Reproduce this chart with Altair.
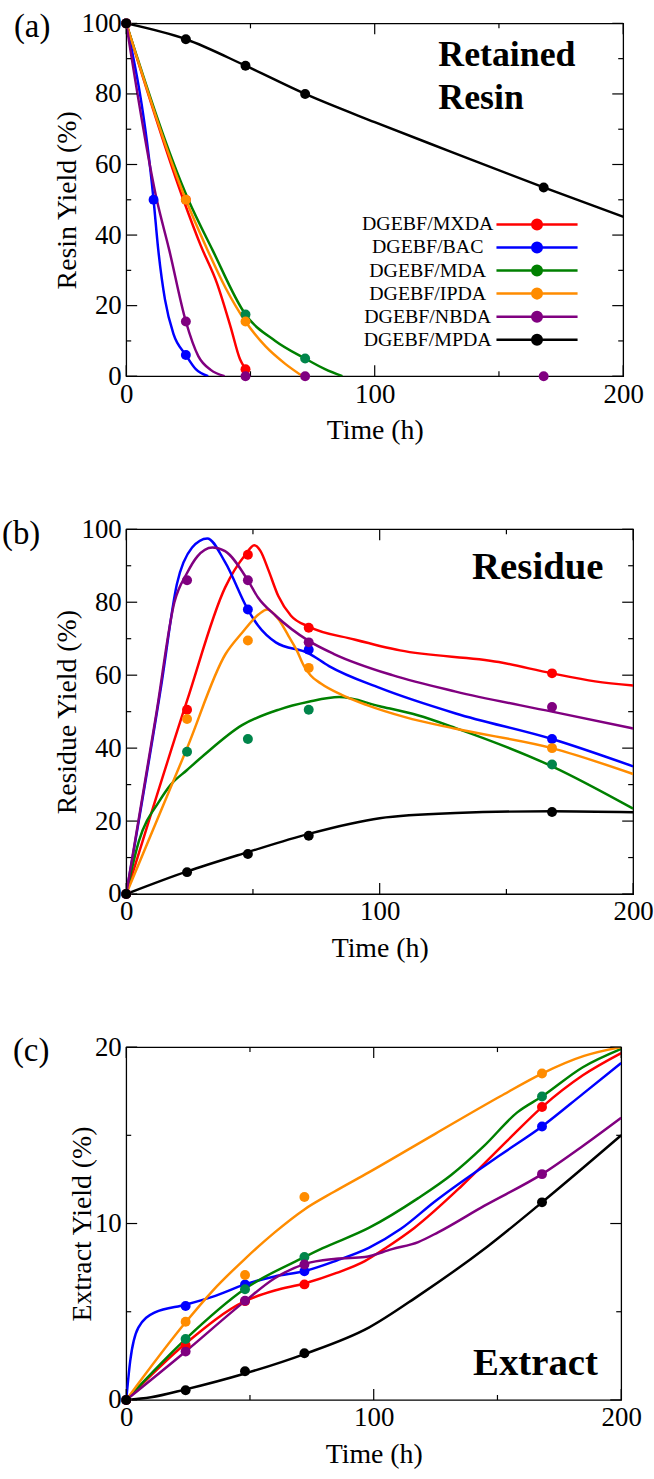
import altair as alt
import pandas as pd

FONT = "Liberation Serif"

SERIES = ["DGEBF/MXDA", "DGEBF/BAC", "DGEBF/MDA", "DGEBF/IPDA", "DGEBF/NBDA", "DGEBF/MPDA"]
LINE_COLORS = ["#ff0000", "#0000ff", "#008000", "#ff8c00", "#800080", "#000000"]
POINT_COLORS = ["#ff0000", "#0000ff", "#00854a", "#ff8c00", "#800080", "#000000"]

# ---------------- (a) Retained resin ----------------
A_POINTS = {
    "DGEBF/MXDA": ([0, 24, 48], [100, 50, 2]),
    "DGEBF/BAC": ([0, 11, 24], [100, 50, 6]),
    "DGEBF/MDA": ([0, 48, 72], [100, 17.5, 5]),
    "DGEBF/IPDA": ([0, 24, 48], [100, 50, 15.5]),
    "DGEBF/NBDA": ([0, 24, 48, 72, 168], [100, 15.5, 0, 0, 0]),
    "DGEBF/MPDA": ([0, 24, 48, 72, 168], [100, 95.5, 88, 80, 53.5]),
}
A_CURVES = {
    "DGEBF/MXDA": ([0, 23, 30, 36.5, 42, 45.8, 48, 49.5], [100, 50, 37, 26.4, 14, 4.8, 2, 0]),
    "DGEBF/BAC": ([0, 11, 12.9, 15.6, 19, 24, 28, 33], [100, 50, 35.8, 21.7, 12, 6, 2, 0]),
    "DGEBF/MDA": ([0, 25, 34.7, 48, 60, 72, 80, 87], [100, 50, 35.8, 17.5, 10, 5, 2, 0]),
    "DGEBF/IPDA": ([0, 24, 32.7, 40, 48, 56, 64, 71], [100, 50, 35.8, 25, 15.5, 8.5, 3.5, 0]),
    "DGEBF/NBDA": ([0, 12.3, 17.3, 24, 29, 34, 39.6], [100, 50, 35.8, 15.5, 5.7, 1.8, 0]),
    "DGEBF/MPDA": ([0, 24, 48, 72, 100, 130, 168, 200], [100, 95.5, 88, 80, 72, 63.8, 53.5, 45.2]),
}

# ---------------- (b) Residue ----------------
B_POINTS = {
    "DGEBF/MXDA": ([0, 24, 48, 72, 168], [0, 50.5, 93, 73, 60.5]),
    "DGEBF/BAC": ([0, 48, 72, 168], [0, 78, 67, 42.5]),
    "DGEBF/MDA": ([0, 24, 48, 72, 168], [0, 39, 42.5, 50.5, 35.5]),
    "DGEBF/IPDA": ([0, 24, 48, 72, 168], [0, 48, 69.5, 62, 40]),
    "DGEBF/NBDA": ([0, 24, 48, 72, 168], [0, 86, 86, 69, 51.3]),
    "DGEBF/MPDA": ([0, 24, 48, 72, 168], [0, 6, 11, 16, 22.5]),
}
B_CURVES = {
    "DGEBF/MXDA": ([0, 24, 39, 47, 50.5, 53, 56, 60, 65, 72, 90, 108, 147, 168, 185, 200],
                   [0, 53, 84, 93, 95.6, 94, 89, 81.7, 76.3, 73.3, 69.8, 66.8, 63.6, 60.5, 58.3, 57.2]),
    "DGEBF/BAC": ([0, 14, 20, 26, 32, 39, 48, 52, 59, 72, 80, 100, 130, 168, 200],
                  [0, 58, 85, 95, 97.5, 91, 78, 73.6, 69, 66, 62.5, 56.5, 49.5, 42.5, 35]),
    "DGEBF/MDA": ([0, 5, 13, 17.6, 24, 30.7, 45.7, 60, 72, 84, 100, 115, 130, 168, 200],
                  [0, 14.5, 25.4, 30, 34, 38.1, 46.3, 50.5, 52.7, 54, 51.5, 49, 45.5, 35, 23.4]),
    "DGEBF/IPDA": ([0, 24, 39.2, 45.8, 52.3, 55.6, 60, 64, 67.3, 70, 72.7, 76.8, 85, 95, 110, 130, 168, 200],
                   [0, 40, 65.8, 71.7, 76.7, 78, 75.4, 70.8, 66.8, 62.7, 60, 57.7, 54.6, 51.8, 48.5, 45.3, 40, 32.9]),
    "DGEBF/NBDA": ([0, 12, 19, 24, 28, 34, 39, 48, 52, 59, 72, 82, 105, 130, 168, 200],
                   [0, 50, 80, 88, 92.5, 95, 94, 86, 81.3, 76.3, 69.4, 65.8, 60, 55.5, 50, 45.4]),
    "DGEBF/MPDA": ([0, 24, 48, 72, 100, 130, 168, 200], [0, 6.2, 11.5, 16.5, 20.8, 22.2, 22.7, 22.4]),
}

# ---------------- (c) Extract ----------------
C_POINTS = {
    "DGEBF/MXDA": ([0, 24, 48, 72, 168], [0, 3.1, 5.6, 6.55, 16.6]),
    "DGEBF/BAC": ([0, 24, 48, 72, 168], [0, 5.33, 6.55, 7.3, 15.5]),
    "DGEBF/MDA": ([0, 24, 48, 72, 168], [0, 3.45, 6.27, 8.1, 17.2]),
    "DGEBF/IPDA": ([0, 24, 48, 72, 168], [0, 4.43, 7.08, 11.5, 18.5]),
    "DGEBF/NBDA": ([0, 24, 48, 72, 168], [0, 2.74, 5.62, 7.68, 12.8]),
    "DGEBF/MPDA": ([0, 24, 48, 72, 168], [0, 0.55, 1.63, 2.65, 11.2]),
}
C_CURVES = {
    "DGEBF/MXDA": ([0, 24, 48, 60, 72, 85, 96.4, 104.7, 116.4, 135.3, 154, 168, 184.5, 200],
                   [0, 3.2, 5.6, 6.2, 6.6, 7.2, 7.87, 8.6, 9.75, 12.1, 14.7, 16.6, 18.4, 19.66]),
    "DGEBF/BAC": ([0, 1.6, 4.9, 11.6, 24, 36, 48, 60, 72, 85, 98, 111, 124.7, 151.3, 168, 184.5, 200],
                  [0, 2.2, 4.1, 4.96, 5.4, 5.9, 6.55, 7.0, 7.3, 7.9, 8.62, 9.7, 11.25, 13.9, 15.5, 17.35, 19.1]),
    "DGEBF/MDA": ([0, 24, 48, 72, 79.4, 98, 118, 131.3, 144.6, 158, 168, 184.5, 200],
                  [0, 3.45, 6.3, 8.1, 8.6, 9.75, 11.44, 12.75, 14.4, 16.3, 17.2, 18.86, 19.9]),
    "DGEBF/IPDA": ([0, 24, 35, 48, 60, 72, 84, 98, 125, 151, 168, 185, 200],
                   [0, 4.4, 6.2, 8.0, 9.5, 10.8, 11.8, 12.9, 15.1, 17.2, 18.5, 19.5, 20]),
    "DGEBF/NBDA": ([0, 24, 48, 60, 72, 84.8, 96.4, 107.4, 118, 126, 144.6, 168, 184.5, 200],
                   [0, 2.75, 5.6, 6.9, 7.7, 8.0, 8.1, 8.55, 8.95, 9.5, 11.0, 12.8, 14.4, 16]),
    "DGEBF/MPDA": ([0, 10, 24, 48, 72, 98, 118, 146, 168, 200],
                   [0, 0.15, 0.6, 1.5, 2.6, 4.1, 5.9, 8.7, 11.2, 15.0]),
}

X_MAJOR = [0, 100, 200]
X_MINOR = [50, 150]
Y_AB_MAJOR = [0, 20, 40, 60, 80, 100]
Y_AB_MINOR = [10, 30, 50, 70, 90]
Y_C_MAJOR = [0, 10, 20]
Y_C_MINOR = [5, 15]

MAJOR_LEN = 11
MINOR_LEN = 5

# legend glyph (stroke only): a line with a solid dot, placed right of the centred label
LEGEND_PATH = ("M13.2,0L26.8,0 "
               "M19.2,0A0.8,0.8,0,1,0,20.8,0A0.8,0.8,0,1,0,19.2,0 "
               "M19.5,0A0.5,0.5,0,1,0,20.5,0A0.5,0.5,0,1,0,19.5,0 "
               "M19.8,0A0.2,0.2,0,1,0,20.2,0A0.2,0.2,0,1,0,19.8,0")


def to_long(d):
    rows = []
    for s in SERIES:
        if s in d:
            ts, vs = d[s]
            for t, v in zip(ts, vs):
                rows.append({"series": s, "t": t, "v": v})
    return pd.DataFrame(rows)


def tick_layers(xe, ye, w, h, xvals, yvals, length):
    """Inward ticks on all four edges, positioned through the panel scales."""
    xdf = pd.DataFrame({"t": xvals})
    ydf = pd.DataFrame({"v": yvals})
    base = dict(color="black", strokeWidth=1.2)
    return [
        alt.Chart(xdf).mark_rule(**base).encode(x=xe, y=alt.value(h), y2=alt.value(h - length)),
        alt.Chart(xdf).mark_rule(**base).encode(x=xe, y=alt.value(0), y2=alt.value(length)),
        alt.Chart(ydf).mark_rule(**base).encode(y=ye, x=alt.value(0), x2=alt.value(length)),
        alt.Chart(ydf).mark_rule(**base).encode(y=ye, x=alt.value(w), x2=alt.value(w - length)),
    ]


def panel(points, curves, w, h, ymax, ymajor, yminor, ytitle, ytitle_x,
          show_legend, plabel, plabel_x, plabel_y, annot, annot_x, annot_y, annot_size, annot_lh):
    pts = to_long(points)
    crv = to_long(curves)
    xs = alt.Scale(domain=[0, 200], nice=False, zero=False)
    ys = alt.Scale(domain=[0, ymax], nice=False, zero=False)

    x_lab = alt.Axis(orient="bottom", values=X_MAJOR, ticks=False, domain=False, grid=False,
                     labelFont=FONT, labelFontSize=27, labelColor="black", labelPadding=5,
                     labelFlush=False, labelOverlap=False,
                     title="Time (h)", titleFont=FONT, titleFontSize=28, titleFontWeight="normal",
                     titleColor="black", titleY=55, titleBaseline="middle")
    y_lab = alt.Axis(orient="left", values=ymajor, ticks=False, domain=False, grid=False,
                     labelFont=FONT, labelFontSize=27, labelColor="black", labelPadding=5,
                     labelOverlap=False, labelFlush=False,
                     title=ytitle, titleFont=FONT, titleFontSize=28, titleFontWeight="normal",
                     titleColor="black", titleX=ytitle_x, titleY=h / 2, titleAngle=270,
                     titleAlign="center", titleBaseline="middle")

    # the same axis definition on every layer, so the shared axes merge cleanly
    xe = alt.X("t:Q", scale=xs, axis=x_lab)
    ye = alt.Y("v:Q", scale=ys, axis=y_lab)

    if show_legend:
        leg = alt.Legend(title=None, orient="none", legendX=w - 216.7, legendY=192.3,
                         symbolType=LEGEND_PATH, symbolSize=144, symbolStrokeWidth=2.5,
                         symbolFillColor="transparent", symbolOpacity=1,
                         labelAlign="center", labelOffset=0,
                         labelFont=FONT, labelFontSize=20, labelColor="black",
                         rowPadding=3.2, padding=0)
    else:
        leg = None

    lines = alt.Chart(crv).mark_line(strokeWidth=2.5, interpolate="monotone", clip=True).encode(
        x=xe, y=ye,
        stroke=alt.Stroke("series:N", scale=alt.Scale(domain=SERIES, range=LINE_COLORS), legend=leg),
        order=alt.Order("t:Q"),
    )

    dots = alt.Chart(pts).mark_point(filled=True, size=100, opacity=1, strokeWidth=0).encode(
        x=xe, y=ye,
        fill=alt.Fill("series:N", scale=alt.Scale(domain=SERIES, range=POINT_COLORS), legend=None),
    )

    ticks = (tick_layers(xe, ye, w, h, X_MAJOR, ymajor, MAJOR_LEN)
             + tick_layers(xe, ye, w, h, X_MINOR, yminor, MINOR_LEN))

    lab = alt.Chart(pd.DataFrame({"txt": [plabel]})).mark_text(
        align="left", baseline="alphabetic", font=FONT, fontSize=33, color="black"
    ).encode(x=alt.value(plabel_x), y=alt.value(plabel_y), text="txt:N")

    ann = alt.Chart(pd.DataFrame({"txt": [annot]})).mark_text(
        align="left", baseline="alphabetic", font=FONT, fontSize=annot_size, fontWeight="bold",
        color="black", lineBreak="\n", lineHeight=annot_lh
    ).encode(x=alt.value(annot_x), y=alt.value(annot_y), text="txt:N")

    return alt.layer(lines, *ticks, dots, ann, lab).properties(width=w, height=h)


WA, HA = 500, 355
WB, HB = 510, 367
WC, HC = 498, 355

pa = panel(A_POINTS, A_CURVES, WA, HA, 100, Y_AB_MAJOR, Y_AB_MINOR, "Resin Yield (%)", -59,
           True, "(a)", -113, 14, "Retained\nResin", WA - 186, 43, 36, 43)
pb = panel(B_POINTS, B_CURVES, WB, HB, 100, Y_AB_MAJOR, Y_AB_MINOR, "Residue Yield (%)", -59,
           False, "(b)", -125, 15, "Residue", WB - 162, 50, 39, 43)
pc = panel(C_POINTS, C_CURVES, WC, HC, 20, Y_C_MAJOR, Y_C_MINOR, "Extract Yield (%)", -44,
           False, "(c)", -114, 14, "Extract", WC - 149, 330, 39, 43)

chart = alt.vconcat(pa, pb, pc, spacing=69).resolve_scale(
    x="independent", y="independent", fill="independent", stroke="independent"
).resolve_legend(fill="independent", stroke="independent").properties(
    padding={"left": 1, "top": 4, "right": 0, "bottom": 0}
).configure_view(stroke="black", strokeWidth=1.3)

chart.save("out.html", embed_options={"renderer": "svg", "actions": False})
